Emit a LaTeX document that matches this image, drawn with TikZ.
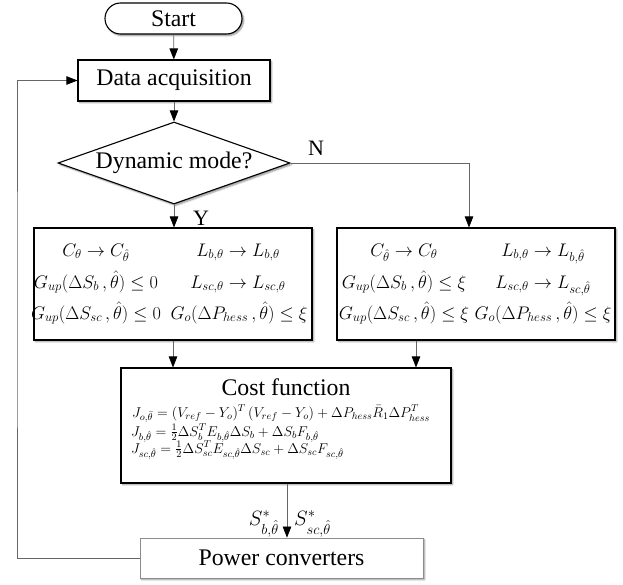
\RequirePackage{fix-cm}
\documentclass[tikz,border=0pt]{standalone}
\usepackage{amsmath}
\usepackage{fontspec}
\setmainfont{Liberation Serif}
\usetikzlibrary{shapes.geometric,shadows.blur,arrows.meta}
\begin{document}
\begin{tikzpicture}[x=1pt,y=-1pt,
  shad/.style={blur shadow={shadow xshift=1.6pt,shadow yshift=-1.6pt,shadow blur steps=6,shadow blur radius=1.6pt,shadow opacity=45}},
  box/.style={draw=black,line width=1.1pt,fill=white,inner sep=0pt,shad},
  lbl/.style={font=\fontsize{23.8}{26}\selectfont,inner sep=0pt},
  eq/.style={font=\fontsize{18.2}{21}\selectfont,inner sep=0pt,anchor=base},
  ceq/.style={font=\fontsize{14.2}{17}\selectfont,inner sep=0pt,anchor=base west},
  conn/.style={draw=black!60,line width=0.7pt,-{Triangle[length=11pt,width=8.5pt,color=black]}},
  plain/.style={draw=black!55,line width=0.7pt}]
\useasboundingbox (0,0) rectangle (623,584);

\node[box,lbl,rounded corners=15.5pt,minimum width=137pt,minimum height=31pt] (start) at (173.5,18.5) {Start};
\node[box,lbl,minimum width=192pt,minimum height=41pt] (data) at (174,80.5) {Data acquisition};
\node[box,lbl,diamond,aspect=2.83,minimum width=232pt,minimum height=82pt] (dyn) at (174,163) {Dynamic mode?};
\node[box,minimum width=278pt,minimum height=112pt] (lbox) at (173,284) {};
\node[box,minimum width=278pt,minimum height=112pt] (rbox) at (476,284) {};
\node[box,minimum width=330pt,minimum height=115pt] (cost) at (286,425.5) {};
\node[box,lbl,draw=black!45,line width=0.8pt,minimum width=283pt,minimum height=40pt] (power) at (281.5,558) {Power converters};

% left box contents
\node[eq] (l11) at (96,256) {$C_\theta \rightarrow C_{\hat\theta}$};
\node[eq] (l12) at (238,256) {$L_{b,\theta}\rightarrow L_{b,\theta}$};
\node[eq] (l21) at (96,288) {$G_{up}(\Delta S_b\,,\hat\theta)\le 0$};
\node[eq] (l22) at (238,288) {$L_{sc,\theta}\rightarrow L_{sc,\theta}$};
\node[eq] (l31) at (96,319) {$G_{up}(\Delta S_{sc}\,,\hat\theta)\le 0$};
\node[eq] (l32) at (239,319) {$G_o(\Delta P_{hess}\,,\hat\theta)\le \xi$};
% right box contents
\node[eq] (r11) at (404,256) {$C_{\hat\theta} \rightarrow C_\theta$};
\node[eq] (r12) at (543,256) {$L_{b,\theta}\rightarrow L_{b,\hat\theta}$};
\node[eq] (r21) at (404,288) {$G_{up}(\Delta S_b\,,\hat\theta)\le \xi$};
\node[eq] (r22) at (543,288) {$L_{sc,\theta}\rightarrow L_{sc,\hat\theta}$};
\node[eq] (r31) at (404,319) {$G_{up}(\Delta S_{sc}\,,\hat\theta)\le \xi$};
\node[eq] (r32) at (543,319) {$G_o(\Delta P_{hess}\,,\hat\theta)\le \xi$};
% cost function contents
\node[lbl,anchor=base] (ctitle) at (286,395) {Cost function};
\node[ceq] (c1) at (132,417) {$J_{o,\bar\theta} = (V_{ref}-Y_o)^T\,(V_{ref}-Y_o)+\Delta P_{hess}\bar R_1\Delta P_{hess}^T$};
\node[ceq] (c2) at (131,436) {$J_{b,\hat\theta} = \tfrac{1}{2}\Delta S_b^T E_{b,\hat\theta}\Delta S_b+\Delta S_b F_{b,\hat\theta}$};
\node[ceq] (c3) at (131,453) {$J_{sc,\hat\theta} = \tfrac{1}{2}\Delta S_{sc}^T E_{sc,\hat\theta}\Delta S_{sc}+\Delta S_{sc} F_{sc,\hat\theta}$};

% connectors
\coordinate (nturn) at (469,163);
\coordinate (rx) at (416,0);
\coordinate (fb) at (17,300);
\draw[conn] (start) -- (data);
\draw[conn] (data) -- (dyn);
\draw[conn] (dyn.south) -- (dyn.south |- lbox.north);
\draw[conn] (dyn.east) -- (nturn) -- (nturn |- rbox.north);
\draw[conn] (lbox.south) -- (lbox.south |- cost.north);
\draw[conn] (rx |- rbox.south) -- (rx |- cost.north);
\draw[conn] (cost.south -| 287,0) -- (power.north -| 287,0);
\draw[conn] (power.west) -| (fb) |- (data.west);

% labels
\node[lbl,font=\fontsize{22}{24}\selectfont,anchor=base west] (nlab) at (308,155) {N};
\node[lbl,font=\fontsize{22}{24}\selectfont,anchor=base west] (ylab) at (193,225) {Y};
\node[eq,font=\fontsize{20.7}{23}\selectfont,anchor=base east] (sb) at (279,525) {$S^*_{b,\hat\theta}$};
\node[eq,font=\fontsize{20.7}{23}\selectfont,anchor=base west] (ssc) at (294,525) {$S^*_{sc,\hat\theta}$};
\end{tikzpicture}
\end{document}
